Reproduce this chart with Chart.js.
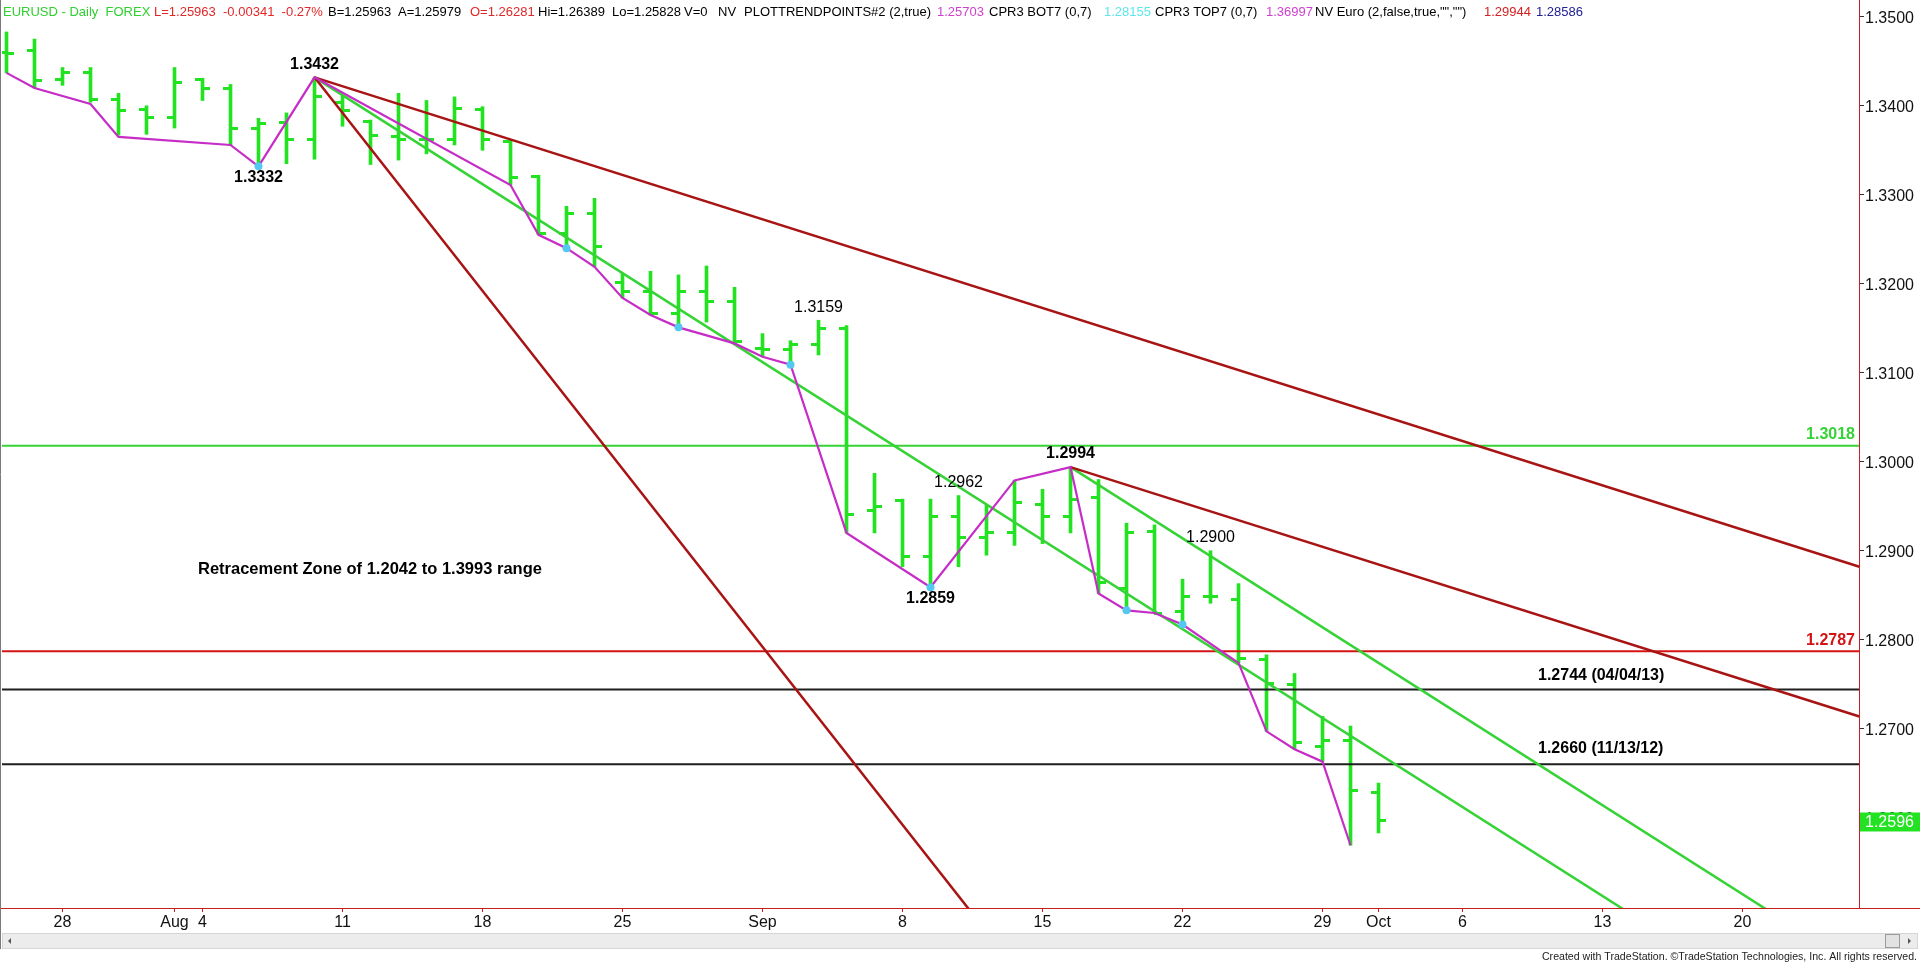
<!DOCTYPE html>
<html>
<head>
<meta charset="utf-8">
<title>EURUSD Daily</title>
<script src="https://cdn.jsdelivr.net/npm/chart.js@4.4.0/dist/chart.umd.min.js"></script>
<style>
  html, body { margin: 0; padding: 0; background: #fff; overflow: hidden; }
  #wrap { width: 1920px; height: 964px; }
</style>
</head>
<body>
<div id="wrap"><canvas id="eurChart" width="1920" height="964"></canvas></div>
<script>
// daily bars, Jul 24 - Oct 1 2014
const dates = ["Jul 24", "Jul 25", "Jul 28", "Jul 29", "Jul 30", "Jul 31", "Aug 1", "Aug 4", "Aug 5", "Aug 6",
  "Aug 7", "Aug 8", "Aug 11", "Aug 12", "Aug 13", "Aug 14", "Aug 15", "Aug 18", "Aug 19", "Aug 20",
  "Aug 21", "Aug 22", "Aug 25", "Aug 26", "Aug 27", "Aug 28", "Aug 29", "Sep 1", "Sep 2", "Sep 3",
  "Sep 4", "Sep 5", "Sep 8", "Sep 9", "Sep 10", "Sep 11", "Sep 12", "Sep 15", "Sep 16", "Sep 17",
  "Sep 18", "Sep 19", "Sep 22", "Sep 23", "Sep 24", "Sep 25", "Sep 26", "Sep 29", "Sep 30", "Oct 1"];
const opens = [1.3460, 1.3462, 1.3430, 1.3437, 1.3407, 1.3396, 1.3387, 1.3430, 1.3420, 1.3375,
  1.3381, 1.3362, 1.3404, 1.3382, 1.3365, 1.3362, 1.3362, 1.3396, 1.3360, 1.3321,
  1.3256, 1.3279, 1.3201, 1.3191, 1.3167, 1.3191, 1.3180, 1.3127, 1.3126, 1.3132,
  1.3150, 1.2945, 1.2957, 1.2893, 1.2938, 1.2915, 1.2920, 1.2952, 1.2939, 1.2960,
  1.2857, 1.2922, 1.2832, 1.2848, 1.2845, 1.2778, 1.2750, 1.2680, 1.2687, 1.26281];
const highs = [1.3483, 1.3475, 1.3443, 1.3443, 1.3414, 1.3400, 1.3443, 1.3431, 1.3424, 1.3386,
  1.3392, 1.3432, 1.3411, 1.3384, 1.3414, 1.3406, 1.3410, 1.3399, 1.3362, 1.3322,
  1.3287, 1.3296, 1.3212, 1.3214, 1.3210, 1.3220, 1.3196, 1.3144, 1.3136, 1.3159,
  1.3153, 1.2987, 1.2958, 1.2958, 1.2962, 1.2951, 1.2979, 1.2969, 1.2994, 1.2980,
  1.2931, 1.2929, 1.2868, 1.2900, 1.2863, 1.2783, 1.2762, 1.2714, 1.2703, 1.26389];
const lows = [1.3437, 1.3420, 1.3423, 1.3404, 1.3367, 1.3368, 1.3375, 1.3406, 1.3356, 1.3332,
  1.3335, 1.3340, 1.3377, 1.3334, 1.3339, 1.3346, 1.3356, 1.3350, 1.3311, 1.3255,
  1.3240, 1.3219, 1.3184, 1.3165, 1.3151, 1.3157, 1.3133, 1.3118, 1.3109, 1.3120,
  1.2920, 1.2920, 1.2882, 1.2859, 1.2882, 1.2895, 1.2906, 1.2908, 1.2920, 1.2852,
  1.2833, 1.2830, 1.2817, 1.2841, 1.2774, 1.2697, 1.2677, 1.2663, 1.2569, 1.25828];
const closes = [1.3459, 1.3428, 1.3437, 1.3407, 1.3395, 1.3387, 1.3426, 1.3419, 1.3374, 1.3380,
  1.3362, 1.3410, 1.3395, 1.3367, 1.3362, 1.3362, 1.3397, 1.3362, 1.3319, 1.3257,
  1.3279, 1.3242, 1.3191, 1.3167, 1.3191, 1.3180, 1.3135, 1.3126, 1.3132, 1.3150,
  1.2941, 1.2950, 1.2894, 1.2938, 1.2915, 1.2921, 1.2954, 1.2939, 1.2958, 1.2864,
  1.2920, 1.2830, 1.2848, 1.2848, 1.2779, 1.2751, 1.2684, 1.2687, 1.26304, 1.25963];

// PLOTTRENDPOINTS swing line and its marked pivots
const swingIdx = [0, 1, 3, 4, 8, 9, 11, 18, 19, 20, 21, 22, 23, 24, 26, 27, 28, 30, 33, 36,
  38, 39, 40, 41, 42, 44, 45, 46, 47, 48];
const swingVal = [1.3437, 1.3420, 1.3402, 1.3365, 1.3356, 1.3332, 1.3432, 1.3311, 1.3255, 1.3240,
  1.3219, 1.3184, 1.3165, 1.3151, 1.3133, 1.3118, 1.3109, 1.2920, 1.2859, 1.2979,
  1.2994, 1.2852, 1.2833, 1.2830, 1.2817, 1.2774, 1.2697, 1.2677, 1.2663, 1.2569];
const pivotIdx = [9, 20, 24, 28, 33, 40, 42];

// drawn trend lines [bar index, price]
const redFan = [[11, 1.3432], [70, 1.28438]];
const redLower = [[38, 1.2994], [70, 1.26756]];
const redSteep = [[11, 1.3432], [36, 1.2432]];
const greenUpper = [[11, 1.3432], [60, 1.2452]];
const greenLower = [[38, 1.2994], [66, 1.2434]];

// horizontal levels
const levels = [1.3018, 1.2787, 1.2744, 1.2660];
const levelText = ["1.3018", "1.2787", "1.2744 (04/04/13)", "1.2660 (11/13/12)"];

// swing notes
const noteIdx = [11, 9, 29, 34, 38, 33, 43];
const noteSide = ["high", "low", "high", "high", "high", "low", "high"];

// axes
const tickIdx = [2, 6, 7, 12, 17, 22, 27, 32, 37, 42, 47, 49, 52, 57, 62];
const tickText = ["28", "Aug", "4", "11", "18", "25", "Sep", "8", "15", "22", "29", "Oct", "6", "13", "20"];
const yTicks = [1.26, 1.27, 1.28, 1.29, 1.30, 1.31, 1.32, 1.33, 1.34, 1.35];

const barGreen = "#22e222";
const lineGreen = "#35d335";
const pink = "#c62cc6";
const darkRed = "#a81414";
const red = "#d41414";

Chart.defaults.font.family = "'Liberation Sans', Arial, sans-serif";

function tickImage(side) {
  const c = document.createElement("canvas");
  c.width = 15; c.height = 3;
  const g = c.getContext("2d");
  g.fillStyle = barGreen;
  g.fillRect(side === "left" ? 0 : 7, 0, 8, 3);
  return c;
}

function seg(pts) {
  return pts.map(p => ({ x: p[0], y: p[1] }));
}

const xMin = -0.1607, xMax = 66.16;
const yMin = 1.24985, yMax = 1.35189;

function lineSet(pts, color, width, order) {
  return { type: "line", data: seg(pts), borderColor: color, borderWidth: width,
    pointRadius: 0, tension: 0, order: order };
}

const levelColors = [lineGreen, red, "#1e1e1e", "#1e1e1e"];

const datasets = [
  { type: "bar", data: dates.map((d, i) => ({ x: i, y: [lows[i], highs[i]] })),
    backgroundColor: barGreen, barThickness: 3, borderWidth: 0, order: 10 },
  { type: "scatter", data: dates.map((d, i) => ({ x: i, y: opens[i] })),
    pointStyle: tickImage("left"), pointRadius: 7, order: 9 },
  { type: "scatter", data: dates.map((d, i) => ({ x: i, y: closes[i] })),
    pointStyle: tickImage("right"), pointRadius: 7, order: 9 }
];
levels.forEach((lv, k) => {
  datasets.push(lineSet([[xMin, lv], [xMax, lv]], levelColors[k], 2, 6));
});
datasets.push(lineSet(redFan, darkRed, 2.5, 4));
datasets.push(lineSet(redLower, darkRed, 2.5, 4));
datasets.push(lineSet(redSteep, darkRed, 2.5, 4));
datasets.push(lineSet(greenUpper, lineGreen, 2.5, 4));
datasets.push(lineSet(greenLower, lineGreen, 2.5, 4));
datasets.push(lineSet(swingIdx.map((x, k) => [x, swingVal[k]]), pink, 2.2, 2));
datasets.push({ type: "scatter", data: pivotIdx.map(i => ({ x: i, y: swingVal[swingIdx.indexOf(i)] })),
  backgroundColor: "#55c8f2", borderWidth: 0, pointRadius: 4, order: 1 });

const header = [
  ["EURUSD - Daily  FOREX", "#2fd02f", 3],
  ["L=1.25963  -0.00341  -0.27%", "#e02828", 154],
  ["B=1.25963", "#000", 328],
  ["A=1.25979", "#000", 398],
  ["O=1.26281", "#e02828", 470],
  ["Hi=1.26389", "#000", 538],
  ["Lo=1.25828", "#000", 612],
  ["V=0", "#000", 684],
  ["NV", "#000", 718],
  ["PLOTTRENDPOINTS#2 (2,true)", "#000", 744],
  ["1.25703", "#d040d0", 937],
  ["CPR3 BOT7 (0,7)", "#000", 989],
  ["1.28155", "#5ee6ea", 1104],
  ["CPR3 TOP7 (0,7)", "#000", 1155],
  ["1.36997", "#d040d0", 1266],
  ["NV Euro (2,false,true,\"\",\"\")", "#000", 1315],
  ["1.29944", "#d42020", 1484],
  ["1.28586", "#202098", 1536]
];

const decor = {
  id: "decor",
  beforeDraw(chart) {
    const ctx = chart.ctx;
    ctx.save();
    ctx.fillStyle = "#fff";
    ctx.fillRect(0, 0, chart.width, chart.height);
    ctx.restore();
  },
  afterDraw(chart) {
    const ctx = chart.ctx;
    const xs = chart.scales.x, ys = chart.scales.y;
    const area = chart.chartArea;
    ctx.save();

    // axis line runs on under the price scale
    ctx.strokeStyle = "#c81e1e";
    ctx.lineWidth = 1;
    ctx.beginPath();
    ctx.moveTo(0, area.bottom + 0.5);
    ctx.lineTo(chart.width, area.bottom + 0.5);
    ctx.stroke();
    ctx.strokeStyle = "#7a7a7a";
    ctx.beginPath();
    ctx.moveTo(0.5, 0);
    ctx.lineTo(0.5, 949);
    ctx.stroke();

    // header line
    ctx.font = "13px 'Liberation Sans', Arial, sans-serif";
    ctx.textBaseline = "middle";
    ctx.textAlign = "left";
    header.forEach(h => {
      ctx.fillStyle = h[1];
      ctx.fillText(h[0], h[2], 12);
    });

    // swing notes
    noteIdx.forEach((i, k) => {
      const hi = noteSide[k] === "high";
      const v = hi ? highs[i] : lows[i];
      const bold = !(i === 29 || i === 34 || i === 43);
      ctx.font = (bold ? "bold " : "") + "16px 'Liberation Sans', Arial, sans-serif";
      ctx.fillStyle = "#000";
      ctx.textAlign = "center";
      const py = ys.getPixelForValue(v);
      ctx.fillText(v.toFixed(4), xs.getPixelForValue(i), hi ? py - 13 : py + 11);
    });

    // level labels
    ctx.font = "bold 16px 'Liberation Sans', Arial, sans-serif";
    const dy = [-11, -11, -14, -16];
    levels.forEach((lv, k) => {
      const py = ys.getPixelForValue(lv) + dy[k];
      if (k < 2) {
        ctx.textAlign = "right";
        ctx.fillStyle = k === 0 ? lineGreen : red;
        ctx.fillText(levelText[k], area.right - 4, py);
      } else {
        ctx.textAlign = "left";
        ctx.fillStyle = "#000";
        ctx.fillText(levelText[k], 1538, py);
      }
    });

    ctx.textAlign = "left";
    ctx.fillStyle = "#000";
    ctx.font = "bold 16.5px 'Liberation Sans', Arial, sans-serif";
    ctx.fillText("Retracement Zone of 1.2042 to 1.3993 range", 198, 569);

    // last price flag
    const last = closes[closes.length - 1];
    const ly = ys.getPixelForValue(last);
    ctx.fillStyle = barGreen;
    ctx.fillRect(area.right + 1, ly - 8.5, chart.width - area.right - 1, 19);
    ctx.fillStyle = "#fff";
    ctx.font = "16px 'Liberation Sans', Arial, sans-serif";
    ctx.fillText(last.toFixed(4), area.right + 6, ly + 2);

    // scroll bar
    ctx.fillStyle = "#ececec";
    ctx.fillRect(2, 933, 1916, 16);
    ctx.strokeStyle = "#d6d6d6";
    ctx.strokeRect(2.5, 933.5, 1915, 15);
    ctx.fillStyle = "#e2e2e2";
    ctx.fillRect(1885, 934, 15, 14);
    ctx.strokeStyle = "#9c9c9c";
    ctx.strokeRect(1885.5, 934.5, 14, 13);
    ctx.fillStyle = "#555";
    ctx.beginPath();
    ctx.moveTo(8, 941); ctx.lineTo(11, 938); ctx.lineTo(11, 944); ctx.closePath(); ctx.fill();
    ctx.beginPath();
    ctx.moveTo(1911, 941); ctx.lineTo(1908, 938); ctx.lineTo(1908, 944); ctx.closePath(); ctx.fill();

    ctx.font = "10.6px 'Liberation Sans', Arial, sans-serif";
    ctx.fillStyle = "#222";
    ctx.textAlign = "right";
    ctx.fillText("Created with TradeStation. \u00a9TradeStation Technologies, Inc. All rights reserved.", 1917, 957);
    ctx.restore();
  }
};

new Chart(document.getElementById("eurChart"), {
  type: "bar",
  data: { datasets: datasets },
  plugins: [decor],
  options: {
    responsive: false,
    animation: false,
    events: [],
    layout: { autoPadding: false, padding: { left: 2, right: 0, top: 0, bottom: 0 } },
    plugins: { legend: { display: false }, tooltip: { enabled: false } },
    scales: {
      x: {
        type: "linear",
        min: xMin,
        max: xMax,
        offset: false,
        grid: { drawOnChartArea: false, offset: false, color: "#c81e1e", tickLength: 4 },
        border: { color: "#c81e1e" },
        ticks: {
          autoSkip: false, maxRotation: 0, padding: 1, color: "#111",
          font: { size: 16 },
          callback: (v, i) => tickText[i]
        },
        afterBuildTicks: s => { s.ticks = tickIdx.map(v => ({ value: v })); },
        afterFit: s => { s.height = 56; s.paddingLeft = 0; s.paddingRight = 0; }
      },
      y: {
        position: "right",
        min: yMin,
        max: yMax,
        beginAtZero: false,
        grid: { drawOnChartArea: false, color: "#333", tickLength: 5 },
        border: { color: "#c81e1e" },
        ticks: {
          padding: 1, color: "#111", font: { size: 16 }, labelOffset: 2,
          callback: v => v.toFixed(4)
        },
        afterBuildTicks: s => { s.ticks = yTicks.map(v => ({ value: v })); },
        afterFit: s => { s.width = 61; s.paddingTop = 0; s.paddingBottom = 0; }
      }
    }
  }
});
</script>
</body>
</html>
